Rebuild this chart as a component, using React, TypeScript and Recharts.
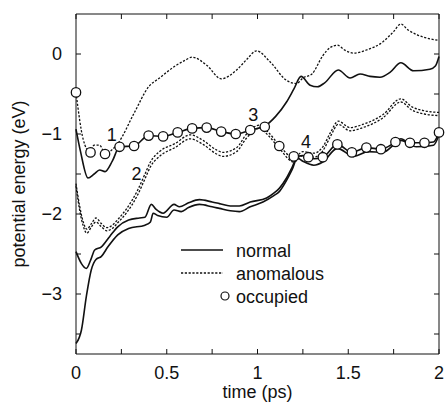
import React from "react";
import { Line, LineChart, ReferenceDot, XAxis, YAxis } from "recharts";

type Pt = [number, number];

// time (ps), potential energy (eV)
const normalUpper: Pt[] = [
  [0, -0.94], [0.025, -1.22], [0.066, -1.55], [0.1, -1.5], [0.13, -1.45], [0.16, -1.47],
  [0.2, -1.34], [0.24, -1.16], [0.32, -1.15], [0.4, -1.02], [0.48, -1.03], [0.56, -0.98],
  [0.64, -0.93], [0.72, -0.92], [0.8, -0.97], [0.88, -1.0], [0.96, -0.95], [1.04, -0.9],
  [1.1, -0.78], [1.16, -0.6], [1.2, -0.44], [1.24, -0.28], [1.29, -0.39], [1.33, -0.41],
  [1.37, -0.36], [1.445, -0.2], [1.51, -0.3], [1.565, -0.25], [1.62, -0.28], [1.675, -0.29],
  [1.73, -0.23], [1.79, -0.11], [1.86, -0.21], [1.95, -0.19], [1.98, -0.15], [2.0, -0.03],
];

const anomalousUpper: Pt[] = [
  [0, -0.48], [0.04, -1.07], [0.075, -1.22], [0.1, -1.14], [0.13, -1.14], [0.16, -1.24],
  [0.23, -1.12], [0.32, -0.74], [0.4, -0.41], [0.46, -0.3], [0.54, -0.16], [0.6, -0.08],
  [0.64, -0.04], [0.72, -0.14], [0.8, -0.31], [0.885, -0.2], [0.94, -0.07], [0.995, 0.04],
  [1.07, -0.1], [1.16, -0.33], [1.215, -0.37], [1.25, -0.3], [1.3, -0.25], [1.36, -0.02],
  [1.4, 0.08], [1.44, 0.11], [1.48, 0.05], [1.53, 0.01], [1.6, 0.05], [1.69, 0.15],
  [1.75, 0.28], [1.79, 0.375], [1.83, 0.3], [1.88, 0.24], [1.95, 0.19], [2.0, 0.17],
];

const anomalousMidA: Pt[] = [
  [0, -1.62], [0.02, -1.9], [0.04, -2.1], [0.06, -2.19], [0.085, -2.12], [0.11, -2.05],
  [0.14, -2.12], [0.17, -2.17], [0.2, -2.14], [0.23, -2.07], [0.28, -1.93], [0.34, -1.7],
  [0.38, -1.5], [0.41, -1.35], [0.46, -1.22], [0.545, -1.12], [0.63, -1.01], [0.7, -1.08],
  [0.775, -1.2], [0.81, -1.23], [0.885, -1.17], [0.94, -1.0], [1.01, -0.89], [1.06, -0.98],
  [1.12, -1.14], [1.2, -1.3], [1.25, -1.22], [1.31, -1.24], [1.36, -1.16], [1.4, -0.99],
  [1.445, -0.84], [1.51, -0.92], [1.58, -0.88], [1.69, -0.76], [1.79, -0.56], [1.85, -0.66],
  [1.92, -0.71], [2.0, -0.73],
];

const anomalousMidB: Pt[] = [
  [0, -1.65], [0.02, -1.95], [0.04, -2.15], [0.06, -2.24], [0.085, -2.16], [0.11, -2.1],
  [0.14, -2.16], [0.17, -2.21], [0.2, -2.18], [0.23, -2.11], [0.28, -1.98], [0.34, -1.76],
  [0.38, -1.56], [0.41, -1.41], [0.46, -1.28], [0.545, -1.17], [0.63, -1.06], [0.7, -1.13],
  [0.775, -1.25], [0.81, -1.28], [0.885, -1.22], [0.94, -1.05], [1.01, -0.93], [1.06, -1.02],
  [1.12, -1.18], [1.2, -1.35], [1.25, -1.27], [1.31, -1.29], [1.36, -1.21], [1.4, -1.04],
  [1.445, -0.88], [1.51, -0.96], [1.58, -0.92], [1.69, -0.8], [1.79, -0.6], [1.85, -0.7],
  [1.92, -0.75], [2.0, -0.77],
];

const normalLowA: Pt[] = [
  [0, -2.47], [0.03, -2.62], [0.057, -2.68], [0.08, -2.58], [0.103, -2.45], [0.14, -2.41],
  [0.186, -2.28], [0.23, -2.16], [0.29, -2.075], [0.35, -2.05], [0.38, -2.04], [0.415, -1.88],
  [0.44, -1.94], [0.48, -1.99], [0.54, -1.88], [0.57, -1.91], [0.62, -1.86], [0.68, -1.82],
  [0.75, -1.85], [0.79, -1.87], [0.85, -1.9], [0.9, -1.9], [0.96, -1.85], [1.05, -1.8],
  [1.09, -1.74], [1.12, -1.68], [1.16, -1.55], [1.19, -1.42], [1.22, -1.28], [1.25, -1.27],
  [1.28, -1.29], [1.31, -1.31], [1.36, -1.29], [1.44, -1.13], [1.52, -1.23], [1.6, -1.17],
  [1.68, -1.19], [1.76, -1.1], [1.79, -1.06], [1.84, -1.11], [1.92, -1.11], [1.97, -1.1],
  [2.0, -0.98],
];

const normalLowB: Pt[] = [
  [0, -3.62], [0.03, -3.45], [0.057, -3.03], [0.084, -2.7], [0.11, -2.57], [0.14, -2.53],
  [0.176, -2.41], [0.23, -2.26], [0.29, -2.18], [0.38, -2.14], [0.41, -2.1], [0.425, -1.99],
  [0.45, -2.02], [0.5, -2.04], [0.54, -1.95], [0.58, -1.97], [0.62, -1.92], [0.68, -1.88],
  [0.75, -1.91], [0.79, -1.93], [0.85, -1.96], [0.9, -1.97], [0.96, -1.91], [1.03, -1.85],
  [1.09, -1.77], [1.12, -1.72], [1.16, -1.58], [1.19, -1.45], [1.22, -1.3], [1.25, -1.34],
  [1.31, -1.39], [1.36, -1.35], [1.44, -1.18], [1.53, -1.28], [1.61, -1.22], [1.69, -1.23],
  [1.79, -1.08], [1.875, -1.16], [1.97, -1.14], [2.0, -1.01],
];

// occupied level, sampled every 0.08 ps
const occupiedT = [
  0, 0.08, 0.16, 0.24, 0.32, 0.4, 0.48, 0.56, 0.64, 0.72, 0.8, 0.88, 0.96,
  1.04, 1.12, 1.2, 1.28, 1.36, 1.44, 1.52, 1.6, 1.68, 1.76, 1.84, 1.92, 2.0,
];
const occupiedE = [
  -0.48, -1.23, -1.25, -1.16, -1.15, -1.02, -1.03, -0.98, -0.93, -0.92, -0.97, -1.0, -0.95,
  -0.91, -1.15, -1.28, -1.29, -1.29, -1.13, -1.23, -1.17, -1.19, -1.1, -1.11, -1.11, -0.98,
];

// numbered crossing markers
const markers: { t: number; e: number; text: string }[] = [
  { t: 0.197, e: -1.01, text: "1" },
  { t: 0.334, e: -1.49, text: "2" },
  { t: 0.977, e: -0.76, text: "3" },
  { t: 1.267, e: -1.1, text: "4" },
];

const xTicks = [0, 0.25, 0.5, 0.75, 1, 1.25, 1.5, 1.75, 2];
const yTicks = [-3.5, -3, -2.5, -2, -1.5, -1, -0.5, 0];
const X_DOMAIN: [number, number] = [0, 2];
const Y_DOMAIN: [number, number] = [-3.75, 0.5];

const toRows = (pts: Pt[]) => pts.map(([t, e]) => ({ t, e }));
const occupied = occupiedT.map((t, i) => ({ t, e: occupiedE[i] }));

const FONT = "'Liberation Sans', Arial, Helvetica, sans-serif";
const INK = "#111";
const FS = 18;
const DOTTED = "2.2 1.6";

const fmtX = (v: number) => (Math.abs(v * 2 - Math.round(v * 2)) < 1e-6 ? String(v) : "");
const fmtY = (v: number) =>
  Number.isInteger(v) ? (v < 0 ? "\u2212" + Math.abs(v) : String(v)) : "";
const blank = () => "";

const LegendBox = () => (
  <svg width={180} height={75} style={{ display: "block", overflow: "visible" }}>
    <line x1={3} x2={45} y1={12} y2={12} stroke={INK} strokeWidth={1.6} />
    <line x1={3} x2={45} y1={35} y2={35} stroke={INK} strokeWidth={1.3} strokeDasharray={DOTTED} />
    <circle cx={47} cy={58} r={4} fill="#fff" stroke={INK} strokeWidth={1.2} />
    <g fontFamily={FONT} fontSize={FS} fill={INK}>
      <text x={58} y={18.5}>normal</text>
      <text x={58} y={41.5}>anomalous</text>
      <text x={58} y={64.5}>occupied</text>
    </g>
  </svg>
);

export default function App() {
  const solid = { stroke: INK, strokeWidth: 1.6, dot: false, type: "monotone" as const };
  const dotted = { ...solid, strokeWidth: 1.3, strokeDasharray: DOTTED };
  // absolutely placed at the body margin so the page itself never scrolls
  return (
    <div style={{ position: "absolute", left: 8, top: 8, width: 438, height: 397, fontFamily: FONT }}>
      <LineChart width={438} height={397} margin={{ top: 5, right: 0, bottom: 0, left: 0 }}>
        <XAxis
          dataKey="t"
          type="number"
          domain={X_DOMAIN}
          ticks={xTicks}
          interval={0}
          tickFormatter={fmtX}
          tickSize={-5}
          tickMargin={17}
          height={51}
          stroke={INK}
          tick={{ fill: INK, fontSize: FS }}
          label={{ value: "time (ps)", position: "insideBottom", offset: 7, fill: INK, fontSize: FS }}
        />
        {/* mirror axes on top and right: frame line and inward ticks only */}
        <XAxis
          xAxisId="top"
          orientation="top"
          dataKey="t"
          type="number"
          domain={X_DOMAIN}
          ticks={xTicks}
          tickFormatter={blank}
          tickSize={-5}
          height={1}
          stroke={INK}
        />
        <YAxis
          type="number"
          domain={Y_DOMAIN}
          ticks={yTicks}
          interval={0}
          tickFormatter={fmtY}
          tickSize={-5}
          tickMargin={19}
          width={68}
          stroke={INK}
          tick={{ fill: INK, fontSize: FS }}
          label={{
            value: "potential energy (eV)",
            angle: -90,
            position: "insideLeft",
            offset: 11,
            fill: INK,
            fontSize: FS,
            style: { textAnchor: "middle" },
          }}
        />
        <YAxis
          yAxisId="right"
          orientation="right"
          type="number"
          domain={Y_DOMAIN}
          ticks={yTicks}
          tickFormatter={blank}
          tickSize={-5}
          width={7}
          stroke={INK}
        />
        <Line
          data={occupied}
          dataKey="e"
          xAxisId="top"
          yAxisId="right"
          stroke="none"
          dot={false}
          activeDot={false}
          isAnimationActive={false}
        />

        <Line data={toRows(normalLowB)} dataKey="e" {...solid} isAnimationActive={false} />
        <Line data={toRows(normalLowA)} dataKey="e" {...solid} isAnimationActive={false} />
        <Line data={toRows(anomalousMidB)} dataKey="e" {...dotted} isAnimationActive={false} />
        <Line data={toRows(anomalousMidA)} dataKey="e" {...dotted} isAnimationActive={false} />
        <Line data={toRows(anomalousUpper)} dataKey="e" {...dotted} isAnimationActive={false} />
        <Line data={toRows(normalUpper)} dataKey="e" {...solid} isAnimationActive={false} />
        <Line
          data={occupied}
          dataKey="e"
          stroke="none"
          dot={{ r: 4.7, fill: "#fff", stroke: INK, strokeWidth: 1.3 }}
          activeDot={false}
          isAnimationActive={false}
        />
        {markers.map((m) => (
          <ReferenceDot
            key={m.text}
            x={m.t}
            y={m.e}
            r={0}
            fill="none"
            stroke="none"
            label={{ value: m.text, position: "center", fill: INK, fontSize: FS }}
          />
        ))}
      </LineChart>
      <div style={{ position: "absolute", left: 170, top: 230 }}>
        <LegendBox />
      </div>
    </div>
  );
}
